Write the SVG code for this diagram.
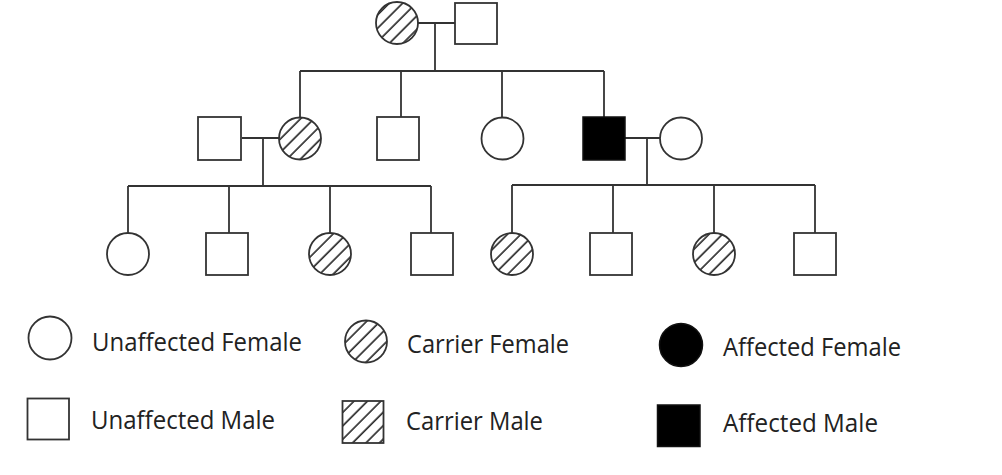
<svg xmlns="http://www.w3.org/2000/svg" width="1002" height="475" viewBox="0 0 1002 475">
<style>
.n{fill:#fff;stroke:#333;stroke-width:1.8}
.c{fill:url(#hatch);stroke:#333;stroke-width:1.8}
.a{fill:#000;stroke:#111;stroke-width:1.5}
.l{fill:none;stroke:#333;stroke-width:1.8}
.t{font-family:"Open Sans","Noto Sans","Liberation Sans",sans-serif;font-size:25px;fill:#222}
</style>
<defs>
<pattern id="hatch" patternUnits="userSpaceOnUse" width="9.5" height="9.5" patternTransform="rotate(45)">
<rect width="9.5" height="9.5" fill="#fff"/>
<line x1="2" y1="0" x2="2" y2="9.5" stroke="#222" stroke-width="1.6"/>
</pattern>
</defs>
<rect width="1002" height="475" fill="#fff"/>
<g id="connectors" class="l">
<path d="M418 23H455M435 23V71M300 71H604M300 71V117M401 71V117M502 71V117M604 71V117"/>
<path d="M242 138H279M263 138V186M128 186H431M128 186V233M229 186V233M330 186V233M431 186V233"/>
<path d="M625 138H660M647 138V185M512 185H815M512 185V233M613 185V233M714 185V233M815 185V233"/>
</g>
<g id="g1-female"><circle class="c" cx="397" cy="23" r="21"/></g>
<g id="g1-male"><rect class="n" x="455" y="3" width="42" height="41"/></g>
<g id="g2-spouse-male"><rect class="n" x="198" y="117" width="43" height="43"/></g>
<g id="g2-carrier-female"><circle class="c" cx="300" cy="138.5" r="21"/></g>
<g id="g2-male"><rect class="n" x="377" y="117" width="42" height="43"/></g>
<g id="g2-female"><circle class="n" cx="502.5" cy="138.5" r="21"/></g>
<g id="g2-affected-male"><rect class="a" x="583" y="117" width="42" height="43"/></g>
<g id="g2-spouse-female"><circle class="n" cx="681" cy="138.5" r="21"/></g>
<g id="g3-1"><circle class="n" cx="128" cy="254" r="21"/></g>
<g id="g3-2"><rect class="n" x="206" y="233" width="42" height="42"/></g>
<g id="g3-3"><circle class="c" cx="330" cy="254" r="21"/></g>
<g id="g3-4"><rect class="n" x="411" y="233" width="42" height="42"/></g>
<g id="g3-5"><circle class="c" cx="512" cy="254" r="21"/></g>
<g id="g3-6"><rect class="n" x="590" y="233" width="42" height="42"/></g>
<g id="g3-7"><circle class="c" cx="714" cy="254" r="21"/></g>
<g id="g3-8"><rect class="n" x="794" y="233" width="42" height="42"/></g>
<g id="legend">
<circle class="n" cx="50" cy="338" r="21.5"/>
<text class="t" x="92" y="351" textLength="210" lengthAdjust="spacingAndGlyphs">Unaffected Female</text>
<rect class="n" x="27.5" y="398.5" width="41.5" height="41"/>
<text class="t" x="91" y="428.5" textLength="184" lengthAdjust="spacingAndGlyphs">Unaffected Male</text>
<circle class="c" cx="366" cy="341.5" r="21"/>
<text class="t" x="407" y="353" textLength="162" lengthAdjust="spacingAndGlyphs">Carrier Female</text>
<rect class="c" x="342.5" y="401" width="41" height="42"/>
<text class="t" x="406" y="430" textLength="137" lengthAdjust="spacingAndGlyphs">Carrier Male</text>
<circle class="a" cx="681" cy="345" r="21.5"/>
<text class="t" x="723" y="356" textLength="178" lengthAdjust="spacingAndGlyphs">Affected Female</text>
<rect class="a" x="657.5" y="405" width="42.5" height="41.5"/>
<text class="t" x="723" y="432" textLength="155" lengthAdjust="spacingAndGlyphs">Affected Male</text>
</g>
</svg>
